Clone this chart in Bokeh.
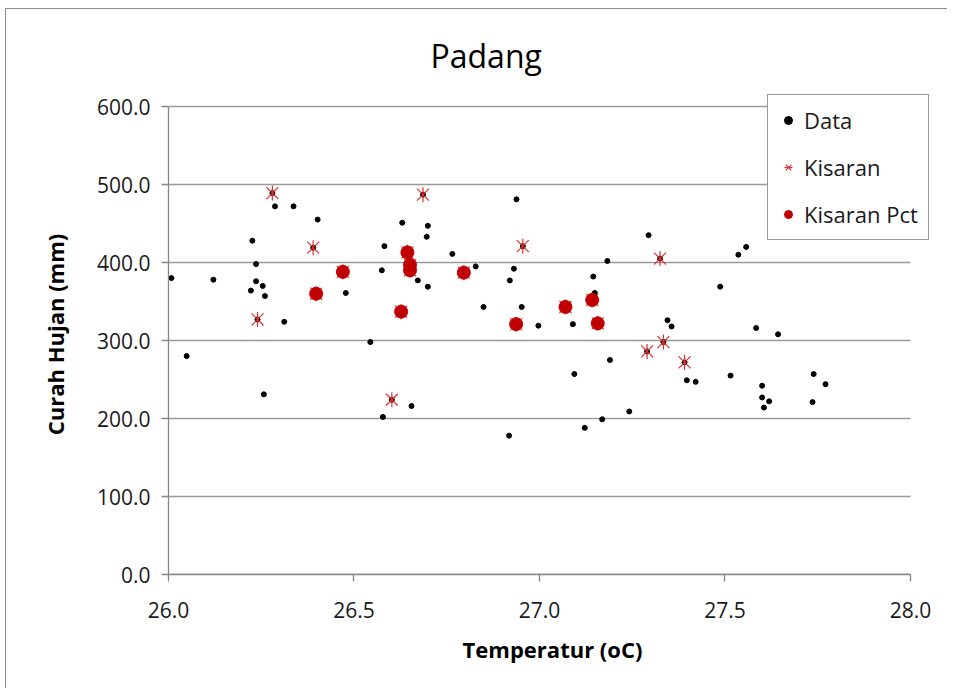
import numpy as np
from bokeh.plotting import figure
from bokeh.models import (Range1d, FixedTicker, NumeralTickFormatter, Legend,
                          LegendItem, Title, ColumnDataSource)
from bokeh.embed import file_html
from bokeh.resources import INLINE

# ---- data ----
# Kisaran (star markers) that are not Kisaran Pct
kis_only_temp = [26.280, 26.390, 26.240, 26.686, 26.955, 26.602, 27.325, 27.334, 27.290, 27.391]
kis_only_rain = [489, 419, 327, 487, 421, 224, 405, 298, 286, 272]
# Kisaran Pct (filled circles)
pct_temp = [26.470, 26.398, 26.644, 26.651, 26.651, 26.796, 26.627, 26.937, 27.142, 27.070, 27.157]
pct_rain = [388, 360, 413, 397, 390, 387, 337, 321, 352, 343, 322]
# remaining observations
obs_temp = [26.287, 26.337, 26.402, 26.226, 26.236, 26.008, 26.121, 26.236, 26.254, 26.222,
            26.260, 26.478, 26.312, 26.049, 26.257, 26.938, 26.630, 26.699, 26.696, 26.582,
            26.765, 26.575, 26.828, 26.931, 26.672, 26.920, 26.699, 26.849, 26.952, 26.997,
            26.544, 26.655, 26.578, 27.294, 27.536, 27.183, 27.145, 27.487, 27.149, 27.090,
            27.345, 27.356, 27.190, 27.094, 27.397, 27.421, 27.515, 27.242, 27.169, 27.122,
            26.918, 27.557, 27.584, 27.643, 27.739, 27.771, 27.600, 27.600, 27.619, 27.605,
            27.736]
obs_rain = [472, 472, 455, 428, 398, 380, 378, 376, 370, 364,
            357, 361, 324, 280, 231, 481, 451, 447, 433, 421,
            411, 390, 395, 392, 377, 377, 369, 343, 343, 319,
            298, 216, 202, 435, 410, 402, 382, 369, 361, 321,
            326, 318, 275, 257, 249, 247, 255, 209, 199, 188,
            178, 420, 316, 308, 257, 244, 242, 227, 222, 214,
            221]

data_temp = obs_temp + kis_only_temp + pct_temp
data_rain = obs_rain + kis_only_rain + pct_rain
kis_temp = kis_only_temp + pct_temp
kis_rain = kis_only_rain + pct_rain

x_ticks = [26.0, 26.5, 27.0, 27.5, 28.0]
y_ticks = [0, 100, 200, 300, 400, 500, 600]
x_min, x_max = 26.0, 28.0
y_min, y_max = 0, 600

FONT = "Open Sans"
TXT = "#1a1a1a"

# frame is a bit larger than the axis extent so the legend box can stick out
p = figure(width=942, height=680, output_backend="svg", toolbar_location=None,
           x_range=Range1d(x_min, 28.0701), y_range=Range1d(y_min, 615.4), title=None,
           min_border_left=162, min_border_right=12, min_border_top=85,
           min_border_bottom=115)
p.outline_line_color = None
p.background_fill_color = "white"
p.border_fill_color = "white"
p.styles = {"margin-left": "5px", "margin-top": "8px",
            "border-left": "1px solid #8c8c8c", "border-top": "1px solid #8c8c8c"}

p.add_layout(Title(text="Padang", text_font=FONT, text_font_size="32px",
                   text_font_style="normal", text_color="black", align="left",
                   offset=262, standoff=35), "above")

# horizontal gridlines limited to the axis extent
p.segment(x0=[x_min] * len(y_ticks), y0=y_ticks, x1=[x_max] * len(y_ticks), y1=y_ticks,
          line_color="#9a9a9a", line_width=1.3)

src_d = ColumnDataSource(dict(x=data_temp, y=data_rain))
src_k = ColumnDataSource(dict(x=kis_temp, y=kis_rain))
src_p = ColumnDataSource(dict(x=pct_temp, y=pct_rain))

r_data = p.scatter("x", "y", source=src_d, marker="circle", size=5,
                   fill_color="black", line_color="black")
r_kx = p.scatter("x", "y", source=src_k, marker="x", size=17,
                 line_color="#e03030", line_width=1.2)
r_kd = p.scatter("x", "y", source=src_k, marker="dash", size=15, angle=np.pi / 2,
                 line_color="#e03030", line_width=1.2)
r_pct = p.scatter("x", "y", source=src_p, marker="circle", size=13,
                  fill_color="#c00000", line_color="#c00000")

# axes
for ax in (p.xaxis[0], p.yaxis[0]):
    ax.axis_line_color = "#868686"
    ax.axis_line_width = 1.3
    ax.major_tick_line_color = "#868686"
    ax.major_tick_line_width = 1.3
    ax.major_tick_in = 0
    ax.major_tick_out = 7
    ax.minor_tick_line_color = None
    ax.major_label_text_font = FONT
    ax.major_label_text_font_size = "21px"
    ax.major_label_text_color = TXT
    ax.axis_label_text_font = FONT
    ax.axis_label_text_font_size = "22px"
    ax.axis_label_text_font_style = "bold"
    ax.axis_label_text_color = "black"
    ax.formatter = NumeralTickFormatter(format="0.0")

p.xaxis.bounds = (x_min, x_max)
p.yaxis.bounds = (y_min, y_max)
p.xaxis.ticker = FixedTicker(ticks=x_ticks)
p.yaxis.ticker = FixedTicker(ticks=y_ticks)
p.xaxis.axis_label = "Temperatur (oC)"
p.yaxis.axis_label = "Curah Hujan (mm)"
p.xaxis.major_label_standoff = 20
p.yaxis.major_label_standoff = 11
p.xaxis.axis_label_standoff = 13
p.yaxis.axis_label_standoff = 24

p.xgrid.grid_line_color = None
p.ygrid.grid_line_color = None

legend = Legend(items=[LegendItem(label="Data", renderers=[r_data]),
                       LegendItem(label="Kisaran", renderers=[r_kx, r_kd]),
                       LegendItem(label="Kisaran Pct", renderers=[r_pct])],
                location=(599, 334), margin=0, padding=10, spacing=17,
                glyph_width=20, glyph_height=30, label_height=30, label_standoff=6,
                label_text_font=FONT, label_text_font_size="22px", label_text_color=TXT,
                border_line_color="#303030", border_line_width=1.2,
                background_fill_color="white", background_fill_alpha=1)
p.add_layout(legend, "center")

open("out.html", "w").write(file_html(p, INLINE))
